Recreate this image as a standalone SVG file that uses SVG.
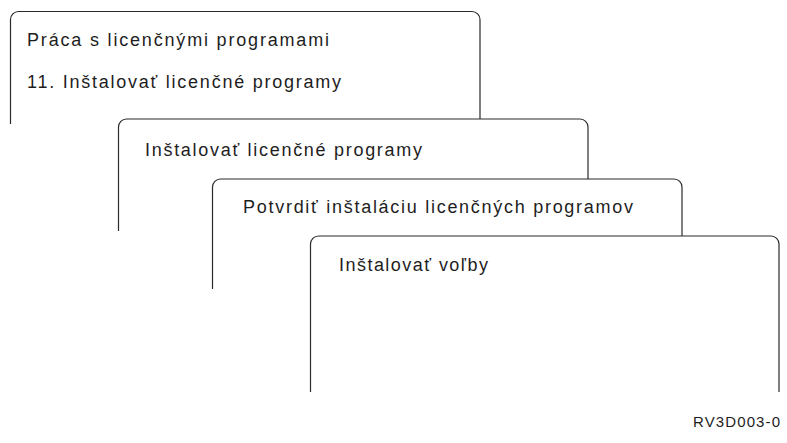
<svg xmlns="http://www.w3.org/2000/svg" width="787" height="443" viewBox="0 0 787 443">
<style>
.frame{fill:none;stroke:#2a2a2a;stroke-width:1.2}
.t{font-family:"Liberation Sans",Arial,Helvetica,sans-serif;font-size:18px;fill:#1e1e1e}
.id{font-family:"Liberation Sans",Arial,Helvetica,sans-serif;font-size:15px;fill:#1e1e1e}
</style>
<rect width="787" height="443" fill="#ffffff"/>
<g id="screen1">
<path class="frame" d="M10.5,124 V19.5 A8,8 0 0 1 18.5,11.5 H472 A8,8 0 0 1 480,19.5 V119"/>
<text class="t" x="27" y="46" textLength="302" lengthAdjust="spacing">Práca s licenčnými programami</text>
<text class="t" x="27" y="88" textLength="314" lengthAdjust="spacing">11. Inštalovať licenčné programy</text>
</g>
<g id="screen2">
<path class="frame" d="M118.5,231 V127 A8,8 0 0 1 126.5,119 H580 A8,8 0 0 1 588,127 V179"/>
<text class="t" x="145" y="156" textLength="277" lengthAdjust="spacing">Inštalovať licenčné programy</text>
</g>
<g id="screen3">
<path class="frame" d="M212.5,289 V187 A8,8 0 0 1 220.5,179 H674 A8,8 0 0 1 682,187 V236"/>
<text class="t" x="243" y="213" textLength="390" lengthAdjust="spacing">Potvrdiť inštaláciu licenčných programov</text>
</g>
<g id="screen4">
<path class="frame" d="M310.5,392 V244 A8,8 0 0 1 318.5,236 H771 A8,8 0 0 1 779,244 V392"/>
<text class="t" x="339" y="271" textLength="149" lengthAdjust="spacing">Inštalovať voľby</text>
</g>
<g id="connectors"></g>
<text class="id" x="693" y="427" textLength="87" lengthAdjust="spacing">RV3D003-0</text>
</svg>
